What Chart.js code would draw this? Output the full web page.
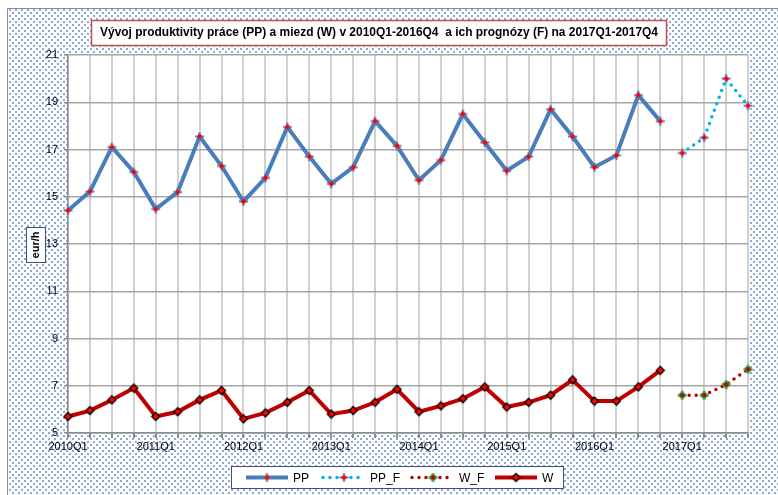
<!DOCTYPE html>
<html>
<head>
<meta charset="utf-8">
<script src="https://cdn.jsdelivr.net/npm/chart.js@4/dist/chart.umd.min.js"></script>
<style>
  html, body { margin: 0; padding: 0; background: #fff; }
  #wrap { width: 778px; height: 495px; }
</style>
</head>
<body>
<div id="wrap"><canvas id="myChart" width="778" height="495"></canvas></div>
<script>
const quarters = [
  '2010Q1','2010Q2','2010Q3','2010Q4','2011Q1','2011Q2','2011Q3','2011Q4',
  '2012Q1','2012Q2','2012Q3','2012Q4','2013Q1','2013Q2','2013Q3','2013Q4',
  '2014Q1','2014Q2','2014Q3','2014Q4','2015Q1','2015Q2','2015Q3','2015Q4',
  '2016Q1','2016Q2','2016Q3','2016Q4','2017Q1','2017Q2','2017Q3','2017Q4'
];
const ppValues = [14.42, 15.22, 17.1, 16.05, 14.48, 15.2, 17.55, 16.3, 14.8, 15.8, 17.95, 16.7,
  15.55, 16.25, 18.2, 17.15, 15.7, 16.55, 18.5, 17.3, 16.1, 16.7, 18.7, 17.55, 16.25, 16.75, 19.3, 18.2];
const ppForecast = [16.85, 17.5, 20.0, 18.85];
const wValues = [5.7, 5.95, 6.4, 6.9, 5.7, 5.9, 6.4, 6.8, 5.6, 5.85, 6.3, 6.8,
  5.8, 5.95, 6.3, 6.85, 5.9, 6.15, 6.45, 6.95, 6.1, 6.3, 6.6, 7.25, 6.35, 6.35, 6.95, 7.65];
const wForecast = [6.6, 6.6, 7.05, 7.7];
const yTicks = [5, 7, 9, 11, 13, 15, 17, 19, 21];

const titleText = 'Vývoj produktivity práce (PP) a miezd (W) v 2010Q1-2016Q4  a ich prognózy (F) na 2017Q1-2017Q4';
const FONT = "'Liberation Sans', Arial, sans-serif";

const pad = (arr, before, after) =>
  Array(before).fill(null).concat(arr, Array(after).fill(null));

// marker images
function marker(kind) {
  const c = document.createElement('canvas');
  c.width = 11; c.height = 11;
  const g = c.getContext('2d');
  if (kind === 'pp' || kind === 'ppf' || kind === 'wf') {
    g.strokeStyle = kind === 'wf' ? '#2ea84a' : '#5b7fb0';
    g.lineWidth = kind === 'wf' ? 2.5 : 2;
    g.beginPath();
    g.moveTo(1, 5.5); g.lineTo(10, 5.5);
    g.moveTo(5.5, 1); g.lineTo(5.5, 10);
    g.stroke();
    if (kind === 'wf') {
      g.fillStyle = '#2ea84a';
      g.beginPath(); g.arc(5.5, 5.5, 3.2, 0, Math.PI * 2); g.fill();
    }
    g.fillStyle = kind === 'wf' ? '#c00000' : '#ff0000';
    g.beginPath(); g.arc(5.5, 5.5, 2.2, 0, Math.PI * 2); g.fill();
  } else {
    g.fillStyle = '#ff0000';
    g.strokeStyle = '#000';
    g.lineWidth = 1.3;
    g.beginPath();
    g.moveTo(5.5, 1.5); g.lineTo(9.5, 5.5); g.lineTo(5.5, 9.5); g.lineTo(1.5, 5.5); g.closePath();
    g.fill(); g.stroke();
  }
  return c;
}
const mPP = marker('pp'), mPPF = marker('ppf'), mWF = marker('wf'), mW = marker('w');

function dotPattern(ctx) {
  const c = document.createElement('canvas');
  c.width = 6; c.height = 6;
  const g = c.getContext('2d');
  g.fillStyle = '#ffffff';
  g.fillRect(0, 0, 6, 6);
  g.fillStyle = '#88abdc';
  g.fillRect(0, 0, 2, 2);
  g.fillRect(3, 3, 2, 2);
  return ctx.createPattern(c, 'repeat');
}

const decor = {
  id: 'decor',
  beforeDraw(chart) {
    const {ctx, chartArea: a} = chart;
    ctx.save();
    ctx.fillStyle = '#fff';
    ctx.fillRect(0, 0, chart.width, chart.height);
    ctx.fillStyle = dotPattern(ctx);
    ctx.fillRect(7, 8, chart.width - 7, chart.height - 8);
    ctx.strokeStyle = '#8c8c8c';
    ctx.lineWidth = 1;
    ctx.beginPath();
    ctx.moveTo(7.5, chart.height); ctx.lineTo(7.5, 8.5); ctx.lineTo(chart.width, 8.5);
    ctx.stroke();
    ctx.fillStyle = '#fff';
    ctx.fillRect(a.left, a.top, a.right - a.left, a.bottom - a.top);
    ctx.restore();
  },
  afterDraw(chart) {
    const {ctx} = chart;
    ctx.save();
    // title box
    ctx.fillStyle = '#fff';
    ctx.fillRect(91, 20, 575, 25);
    ctx.strokeStyle = '#c0504d';
    ctx.lineWidth = 1.5;
    ctx.strokeRect(91.5, 20.5, 575, 25);
    ctx.fillStyle = '#000';
    ctx.font = 'bold 12px ' + FONT;
    ctx.textBaseline = 'middle';
    const w = ctx.measureText(titleText).width;
    ctx.save();
    ctx.translate(100, 33);
    ctx.scale(558 / w, 1);
    ctx.fillText(titleText, 0, 0);
    ctx.restore();

    // y axis title box
    ctx.fillStyle = '#fff';
    ctx.fillRect(26, 227, 19, 35);
    ctx.strokeStyle = '#3b5282';
    ctx.lineWidth = 1;
    ctx.strokeRect(26.5, 227.5, 19, 35);
    ctx.save();
    ctx.translate(36, 245);
    ctx.rotate(-Math.PI / 2);
    ctx.fillStyle = '#000';
    ctx.font = 'bold 11px ' + FONT;
    ctx.textAlign = 'center';
    ctx.textBaseline = 'middle';
    ctx.fillText('eur/h', 0, 0);
    ctx.restore();

    // legend
    ctx.fillStyle = '#fff';
    ctx.fillRect(231, 466, 332, 22);
    ctx.strokeStyle = '#3b5282';
    ctx.strokeRect(231.5, 466.5, 332, 22);
    const ly = 477.5;
    const items = chart.data.datasets;
    const pos = [246, 323, 412, 495];
    ctx.font = '12px ' + FONT;
    ctx.textBaseline = 'middle';
    items.forEach((ds, k) => {
      const x0 = pos[k], x1 = x0 + 42;
      ctx.save();
      ctx.strokeStyle = ds.borderColor;
      ctx.lineWidth = ds.borderWidth;
      ctx.lineCap = ds.borderCapStyle || 'butt';
      ctx.setLineDash(ds.borderDash || []);
      ctx.beginPath();
      ctx.moveTo(x0, ly); ctx.lineTo(x1, ly);
      ctx.stroke();
      ctx.restore();
      const img = ds.pointStyle;
      ctx.drawImage(img, (x0 + x1) / 2 - img.width / 2, ly - img.height / 2);
      ctx.fillStyle = '#000';
      ctx.fillText(ds.label, x1 + 5, ly + 1);
    });
    ctx.restore();
  }
};

const ctx = document.getElementById('myChart');
const config = {
  type: 'line',
  data: {
    labels: quarters,
    datasets: [
      {
        label: 'PP',
        data: pad(ppValues, 0, 4),
        borderColor: '#4a7ebb',
        borderWidth: 4,
        pointStyle: mPP,
        pointRadius: 5,
        tension: 0
      },
      {
        label: 'PP_F',
        data: pad(ppForecast, 28, 0),
        borderColor: '#00b0f0',
        borderWidth: 3.5,
        borderDash: [0, 7],
        borderCapStyle: 'round',
        pointStyle: mPPF,
        pointRadius: 5,
        tension: 0
      },
      {
        label: 'W_F',
        data: pad(wForecast, 28, 0),
        borderColor: '#c00000',
        borderWidth: 3.5,
        borderDash: [0, 7],
        borderCapStyle: 'round',
        pointStyle: mWF,
        pointRadius: 5,
        tension: 0
      },
      {
        label: 'W',
        data: pad(wValues, 0, 4),
        borderColor: '#c00000',
        borderWidth: 4,
        pointStyle: mW,
        pointRadius: 5,
        tension: 0
      }
    ]
  },
  options: {
    responsive: false,
    animation: false,
    layout: { padding: { left: 0, right: 30, top: 55, bottom: 0 } },
    plugins: {
      legend: { display: false },
      tooltip: { enabled: false }
    },
    scales: {
      x: {
        offset: false,
        afterFit(scale) { scale.height = 62; },
        grid: { color: '#d0d0d0', lineWidth: 2, tickColor: '#8c8c8c', tickLength: 5 },
        border: { color: '#8c8c8c', width: 1.5 },
        ticks: {
          autoSkip: false,
          maxRotation: 0,
          padding: 2,
          color: '#000',
          font: { family: FONT, size: 11 },
          callback(v, i) { return i % 4 === 0 ? quarters[i] : ''; }
        }
      },
      y: {
        min: yTicks[0],
        max: yTicks[yTicks.length - 1],
        afterFit(scale) { scale.width = 68; },
        afterBuildTicks(scale) { scale.ticks = yTicks.map(v => ({value: v})); },
        grid: { color: '#a6a6a6', lineWidth: 1.5, tickColor: '#8c8c8c', tickLength: 4 },
        border: { color: '#8c8c8c', width: 1.5 },
        ticks: {
          padding: 6,
          color: '#000',
          font: { family: FONT, size: 11 }
        }
      }
    }
  },
  plugins: [decor]
};

new Chart(ctx, config);
</script>
</body>
</html>
